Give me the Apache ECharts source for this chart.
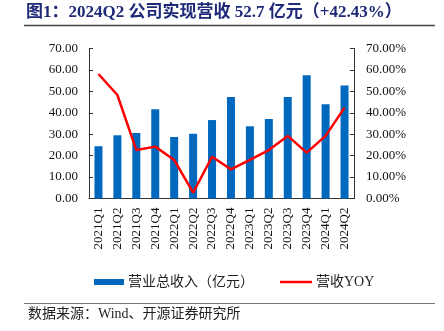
<!DOCTYPE html>
<html>
<head>
<meta charset="utf-8">
<script src="https://cdn.jsdelivr.net/npm/echarts@6/dist/echarts.min.js"></script>
<style>html,body{margin:0;padding:0;background:#fff}#c{width:444px;height:331px}</style>
</head>
<body>
<div id="c"></div>
<script>
const categories = ['2021Q1','2021Q2','2021Q3','2021Q4','2022Q1','2022Q2','2022Q3','2022Q4','2023Q1','2023Q2','2023Q3','2023Q4','2024Q1','2024Q2'];
const revenue = [24.4, 29.5, 30.6, 41.6, 28.7, 30.2, 36.6, 47.4, 33.7, 37.1, 47.4, 57.5, 44.0, 52.7];
const yoy = [58.1, 48.3, 22.6, 24.2, 18.0, 2.7, 19.5, 13.6, 18.0, 22.6, 29.2, 21.4, 29.2, 42.43];
const leftTicks = ['0.00','10.00','20.00','30.00','40.00','50.00','60.00','70.00'];
const rightTicks = ['0.00%','10.00%','20.00%','30.00%','40.00%','50.00%','60.00%','70.00%'];

const serif = "'Liberation Serif','Noto Sans CJK SC'";
const chart = echarts.init(document.getElementById('c'), null, {renderer: 'canvas'});
chart.setOption({
  animation: false,
  backgroundColor: '#fff',
  textStyle: {fontFamily: serif},
  grid: {left: 89, right: 90, top: 48.5, bottom: 132.5, containLabel: false},
  legend: [
    {
      top: 270, left: 89, itemGap: 4,
      itemWidth: 30, itemHeight: 6,
      textStyle: {fontFamily: serif, fontSize: 14, color: '#222', padding: [0, 0, 0, -1]},
      data: [{name: '营业总收入（亿元）', icon: 'rect'}]
    },
    {
      top: 270, left: 275,
      itemWidth: 32, itemHeight: 2.5,
      textStyle: {fontFamily: serif, fontSize: 14, color: '#222', padding: [0, 0, 0, -1]},
      data: [{name: '营收YOY', icon: 'rect', itemStyle: {color: '#FF0000'}}]
    }
  ],
  xAxis: {
    type: 'category',
    data: categories,
    axisLine: {lineStyle: {color: '#333', width: 1}},
    axisTick: {inside: true, length: 4, lineStyle: {color: '#333'}},
    axisLabel: {rotate: 90, fontSize: 13, color: '#111', margin: 9, fontFamily: serif}
  },
  yAxis: [
    {
      type: 'value', min: 0, max: 70, interval: 10,
      axisLine: {show: true, lineStyle: {color: '#333'}},
      axisTick: {show: true, inside: true, length: 4, lineStyle: {color: '#333'}},
      splitLine: {show: false},
      axisLabel: {fontSize: 13, color: '#111', margin: 11, fontFamily: serif,
        formatter: v => leftTicks[Math.round(v / 10)]}
    },
    {
      type: 'value', min: 0, max: 70, interval: 10,
      axisLine: {show: true, lineStyle: {color: '#333'}},
      axisTick: {show: true, inside: true, length: 4, lineStyle: {color: '#333'}},
      splitLine: {show: false},
      axisLabel: {fontSize: 13, color: '#111', margin: 12, fontFamily: serif,
        formatter: v => rightTicks[Math.round(v / 10)]}
    }
  ],
  series: [
    {
      name: '营业总收入（亿元）', type: 'bar', data: revenue, barWidth: 8,
      itemStyle: {color: '#0068BD'}
    },
    {
      name: '营收YOY', type: 'line', yAxisIndex: 1, data: yoy,
      symbol: 'none', lineStyle: {color: '#FF0000', width: 2.5}, itemStyle: {color: '#FF0000'}
    }
  ],
  graphic: [
    {type: 'text', left: 26, top: 4, style: {text: '图1：2024Q2 公司实现营收 52.7 亿元（+42.43%）', font: "bold 17px 'Liberation Serif','Noto Sans CJK SC'", fill: '#1E2A78'}},
    {type: 'line', shape: {x1: 24, y1: 25.5, x2: 435, y2: 25.5}, style: {stroke: '#444', lineWidth: 1.5}},
    {type: 'line', shape: {x1: 24, y1: 303.5, x2: 435, y2: 303.5}, style: {stroke: '#777', lineWidth: 1}},
    {type: 'text', left: 28, top: 307, style: {text: '数据来源：Wind、开源证券研究所', font: "14px 'Liberation Serif','Noto Sans CJK SC'", fill: '#222'}}
  ]
});
</script>
</body>
</html>
